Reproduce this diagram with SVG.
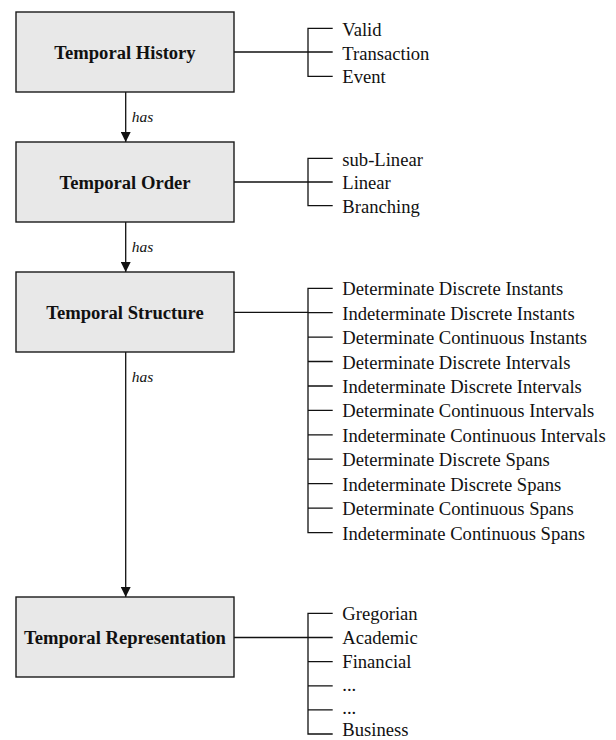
<svg xmlns="http://www.w3.org/2000/svg" width="616" height="740" viewBox="0 0 616 740">
<style>
.box{fill:#e8e8e8;stroke:#1a1a1a;stroke-width:1.4}
.title{font-family:"Liberation Serif",serif;font-weight:bold;font-size:18.6px;fill:#111;text-anchor:middle}
.item{font-family:"Liberation Serif",serif;font-size:18.6px;fill:#111}
.lbl{font-family:"Liberation Serif",serif;font-style:italic;font-size:15.5px;fill:#111}
.ln{stroke:#111;stroke-width:1.3;fill:none}
</style>
<defs>
<marker id="arr" markerWidth="10" markerHeight="10" refX="10" refY="5" orient="auto" markerUnits="userSpaceOnUse">
<path d="M0,0 L10,5 L0,10 Z" fill="#111"/>
</marker>
</defs>
<rect width="616" height="740" fill="#fff"/>
<g id="connectors">
<line class="ln" x1="125.7" y1="92" x2="125.7" y2="142" marker-end="url(#arr)"/>
<text class="lbl" x="131.7" y="121.7">has</text>
<line class="ln" x1="125.7" y1="222" x2="125.7" y2="272" marker-end="url(#arr)"/>
<text class="lbl" x="131.7" y="251.7">has</text>
<line class="ln" x1="125.7" y1="352" x2="125.7" y2="597" marker-end="url(#arr)"/>
<text class="lbl" x="131.7" y="381.7">has</text>
<line class="ln" x1="234" y1="52" x2="308" y2="52"/>
<line class="ln" x1="234" y1="182" x2="308" y2="182"/>
<line class="ln" x1="234" y1="312.3" x2="308" y2="312.3"/>
<line class="ln" x1="234" y1="637.5" x2="308" y2="637.5"/>
</g>
<g id="node-history">
<rect class="box" x="16" y="12" width="218" height="80"/>
<text class="title" x="125" y="58.5">Temporal History</text>
</g>
<g id="list-history">
<path class="ln" d="M332.7,28.3 H308 V76.3 H332.7 M308,52 H332.7"/>
<text class="item" x="342.3" y="35.5">Valid</text>
<text class="item" x="342.3" y="59.5">Transaction</text>
<text class="item" x="342.3" y="83.3">Event</text>
</g>
<g id="node-order">
<rect class="box" x="16" y="142" width="218" height="80"/>
<text class="title" x="125" y="188.5">Temporal Order</text>
</g>
<g id="list-order">
<path class="ln" d="M332.7,158.3 H308 V205.7 H332.7 M308,182 H332.7"/>
<text class="item" x="342.3" y="165.5">sub-Linear</text>
<text class="item" x="342.3" y="189.3">Linear</text>
<text class="item" x="342.3" y="213">Branching</text>
</g>
<g id="node-structure">
<rect class="box" x="16" y="272" width="218" height="80"/>
<text class="title" x="125" y="318.8">Temporal Structure</text>
</g>
<g id="list-structure">
<path class="ln" d="M332.7,288.3 H308 V532.7 H332.7 M308,312.7 H332.7 M308,337.1 H332.7 M308,361.5 H332.7 M308,386 H332.7 M308,410.4 H332.7 M308,434.8 H332.7 M308,459.2 H332.7 M308,483.6 H332.7 M308,508.1 H332.7"/>
<text class="item" x="342.3" y="295.3">Determinate Discrete Instants</text>
<text class="item" x="342.3" y="319.7">Indeterminate Discrete Instants</text>
<text class="item" x="342.3" y="344.1">Determinate Continuous Instants</text>
<text class="item" x="342.3" y="368.5">Determinate Discrete Intervals</text>
<text class="item" x="342.3" y="393">Indeterminate Discrete Intervals</text>
<text class="item" x="342.3" y="417.4">Determinate Continuous Intervals</text>
<text class="item" x="342.3" y="441.8">Indeterminate Continuous Intervals</text>
<text class="item" x="342.3" y="466.2">Determinate Discrete Spans</text>
<text class="item" x="342.3" y="490.6">Indeterminate Discrete Spans</text>
<text class="item" x="342.3" y="515.1">Determinate Continuous Spans</text>
<text class="item" x="342.3" y="539.5">Indeterminate Continuous Spans</text>
</g>
<g id="node-representation">
<rect class="box" x="16" y="597" width="218" height="80"/>
<text class="title" x="125" y="643.8">Temporal Representation</text>
</g>
<g id="list-representation">
<path class="ln" d="M332.7,613.3 H308 V734 H332.7 M308,637.5 H332.7 M308,661.7 H332.7 M308,685.8 H332.7 M308,709.9 H332.7"/>
<text class="item" x="342.3" y="619.5">Gregorian</text>
<text class="item" x="342.3" y="643.5">Academic</text>
<text class="item" x="342.3" y="667.5">Financial</text>
<text class="item" x="342.3" y="691.3">...</text>
<text class="item" x="342.3" y="713.5">...</text>
<text class="item" x="342.3" y="735.5">Business</text>
</g>
</svg>
